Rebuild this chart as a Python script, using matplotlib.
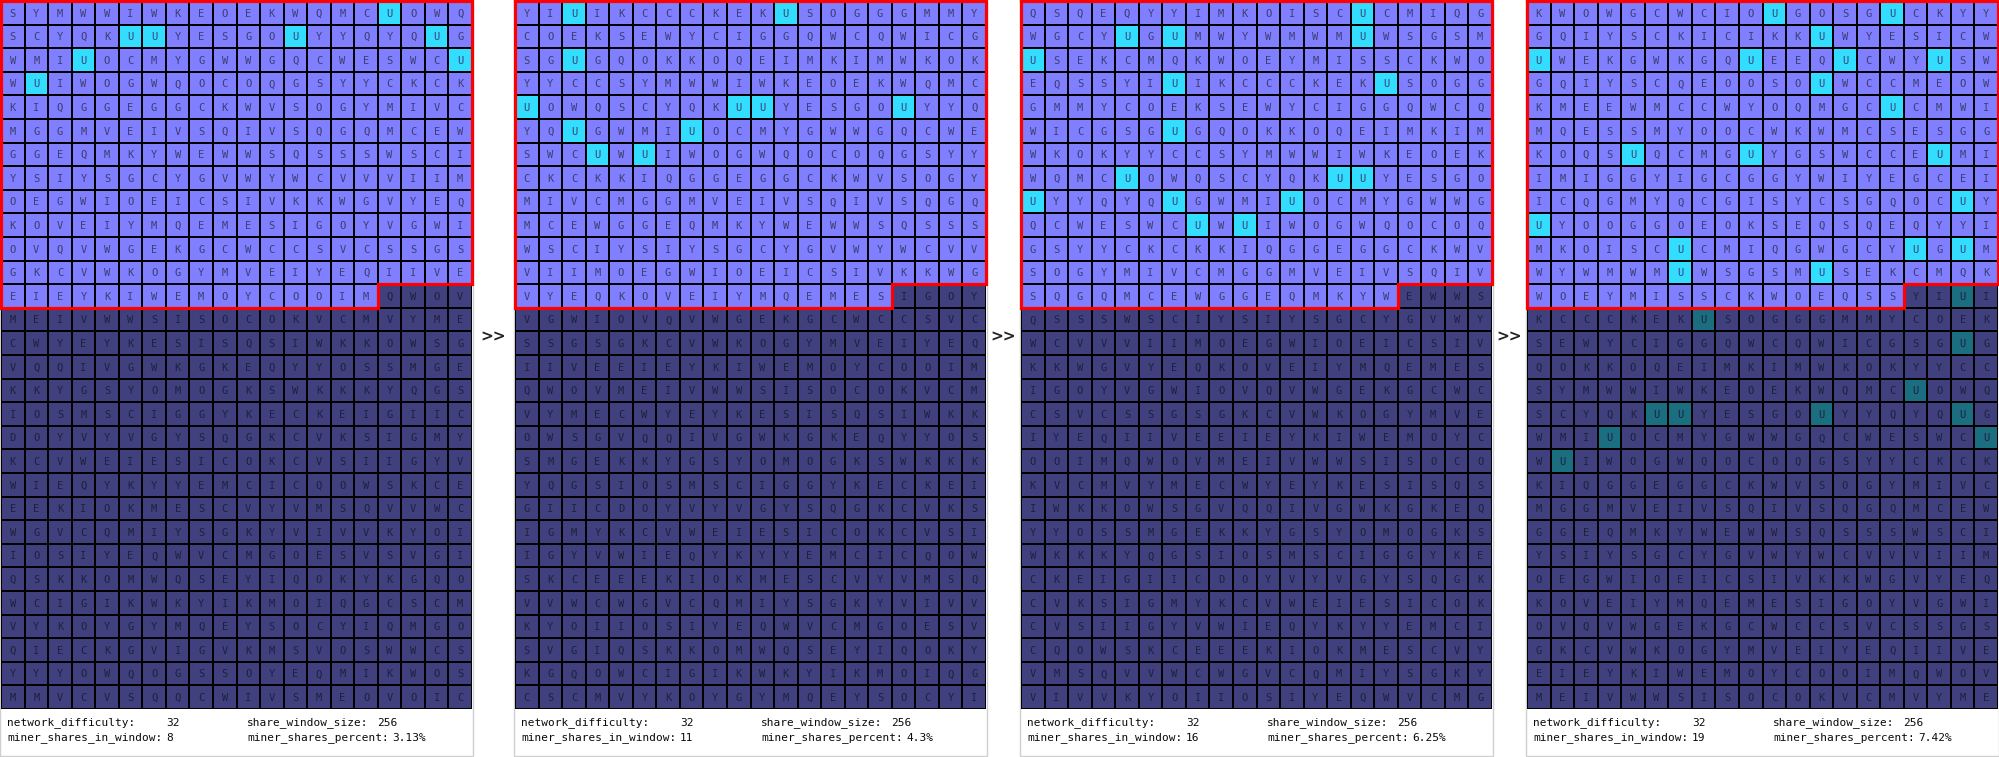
import numpy as np
import matplotlib
matplotlib.use("Agg")
import matplotlib.pyplot as plt
from matplotlib.colors import ListedColormap
from matplotlib.patches import Rectangle

# share stream, newest share first, read 20 per grid row
share_rows = [
    "KWOWGCWCIOUGOSGUCKYY",
    "GQIYSCKICIKKUWYESICW",
    "UWEKGWKGQUEEQUCWYUSW",
    "GQIYSCQEOOSOUWCCMEOW",
    "KMEEWMCCWYOQMGCUCMWI",
    "MQESSMYOOCWKWMCSESGG",
    "KOQSUQCMGUYGSWCCEUMI",
    "IMIGGYIGCGGYWIYEGCEI",
    "ICQGMYQCGISYCSGQOCUY",
    "UYOOGGOEOKSEQSQEQYYI",
    "MKOISCUCMIQGWGCYUGUM",
    "WYWMWMUWSGSMUSEKCMQK",
    "WOEYMISSCKWOEQSSYIUI",
    "KCCCKEKUSOGGGMMYCOEK",
    "SEWYCIGGQWCQWICGSGUG",
    "QOKKOQEIMKIMWKOKYYCC",
    "SYMWWIWKEOEKWQMCUOWQ",
    "SCYQKUUYESGOUYYQYQUG",
    "WMIUOCMYGWWGQCWESWCU",
    "WUIWOGWQOCOQGSYYCKCK",
    "KIQGGEGGCKWVSOGYMIVC",
    "MGGMVEIVSQIVSQGQMCEW",
    "GGEQMKYWEWWSQSSSWSCI",
    "YSIYSGCYGVWYWCVVVIIM",
    "OEGWIOEICSIVKKWGVYEQ",
    "KOVEIYMQEMESIGOYVGWI",
    "OVQVWGEKGCWCCSVCSSGS",
    "GKCVWKOGYMVEIYEQIIVE",
    "EIEYKIWEMOYCOOIMQWOV",
    "MEIVWWSISOCOKVCMVYME",
    "CWYEYKESISQSIWKKOWSG",
    "VQQIVGWKGKEQYYOSSMGE",
    "KKYGSYOMOGKSWKKKYQGS",
    "IOSMSCIGGYKECKEIGIIC",
    "DOYVYVGYSQGKCVKSIGMY",
    "KCVWEIESICOKCVSIIGYV",
    "WIEQYKYYEMCICQOWSKCE",
    "EEKIOKMESCVYVMSQVVWC",
    "WGVCQMIYSGKYVIVVKYOI",
    "IOSIYEQWVCMGOESVSVGI",
    "QSKKOMWQSEYIQOKYKGQO",
    "WCIGIKWKYIKMOIQGCSCM",
    "VYKOYGYMQEYSOCYIQMGO",
    "QIECKGVIGVKMSVOSWWCS",
    "YYYOWQOGSSOYEQMIKWOS",
    "MMVCVSQQCWIVSMEOVOIC",
]

# where each snapshot starts in the stream (panels left to right)
panel_offsets = [320, 256, 192, 0]

network_difficulty = 32
share_window_size = 256
miner_mark = "U"

n_cols = 20
n_rows = 30

# layout in pixels
W, H = 1999, 757
panel_left = [1, 515, 1021, 1527]
grid_w = 471
grid_top = 1
grid_h = 708

plt.rcParams['font.family'] = ['DejaVu Sans Mono']

fig = plt.figure(figsize=((W + 0.01) / 100, (H + 0.01) / 100), dpi=100)
fig.patch.set_facecolor('white')
bg = fig.add_axes([0, 0, 1, 1])
bg.set_xlim(0, W)
bg.set_ylim(H, 0)
bg.axis('off')

stream = "".join(share_rows)
# window cell, window miner share, old cell, old miner share
cmap = ListedColormap(['#7f7fff', '#33ddff', '#40407f', '#1a6e80'])
full_rows, rest = divmod(share_window_size, n_cols)

for k, off in enumerate(panel_offsets):
    x0 = panel_left[k]
    chunk = stream[off:off + n_cols * n_rows]
    letters = np.array(list(chunk)).reshape(n_rows, n_cols)
    idx = np.arange(n_rows * n_cols).reshape(n_rows, n_cols)
    inside = idx < share_window_size
    mine = letters == miner_mark
    code = np.where(inside, 0, 2) + mine.astype(int)

    # light frame round the whole snapshot
    bg.add_patch(Rectangle((x0 - 1, 0.5), grid_w + 2, H - 1, fill=False,
                           ec='#cfcfcf', lw=1))

    ax = fig.add_axes([x0 / W, 1 - (grid_top + grid_h) / H, grid_w / W, grid_h / H])
    ax.pcolormesh(np.arange(n_cols + 1), np.arange(n_rows + 1), code,
                  cmap=cmap, vmin=-0.5, vmax=3.5,
                  edgecolors='black', linewidth=1.1)
    ax.set_xlim(0, n_cols)
    ax.set_ylim(n_rows, 0)
    ax.axis('off')

    for r in range(n_rows):
        for c in range(n_cols):
            ax.text(c + 0.5, r + 0.53, letters[r, c], ha='center', va='center',
                    fontsize=7.5,
                    color='#3d3d6e' if inside[r, c] else '#20203c')

    # red outline of the share window
    ox = [0, n_cols, n_cols, rest, rest, 0, 0]
    oy = [0, 0, full_rows, full_rows, full_rows + 1, full_rows + 1, 0]
    ax.plot(ox, oy, color='#ff0000', lw=2.3, clip_on=False,
            solid_joinstyle='miter')

    n_mine = int(np.sum(mine & inside))
    pct = np.floor(n_mine / share_window_size * 10000 + 0.5) / 100

    tkw = dict(va='center', ha='left', fontsize=8, color='#0a0a0a')
    bg.text(x0 + 6, 723, "network_difficulty:", **tkw)
    bg.text(x0 + 165, 723, str(network_difficulty), **tkw)
    bg.text(x0 + 246, 723, "share_window_size:", **tkw)
    bg.text(x0 + 376, 723, str(share_window_size), **tkw)
    bg.text(x0 + 6, 738, "miner_shares_in_window:", **tkw)
    bg.text(x0 + 165, 738, str(n_mine), **tkw)
    bg.text(x0 + 246, 738, "miner_shares_percent:", **tkw)
    bg.text(x0 + 391, 738, f"{pct:g}%", **tkw)

# arrows between the snapshots
for k in range(len(panel_offsets) - 1):
    xm = (panel_left[k] + grid_w + panel_left[k + 1]) / 2
    bg.text(xm, 337, ">>", ha='center', va='center', fontsize=11,
            color='#222222', family='DejaVu Sans', weight='bold')

fig.savefig('out.png', dpi=100)
